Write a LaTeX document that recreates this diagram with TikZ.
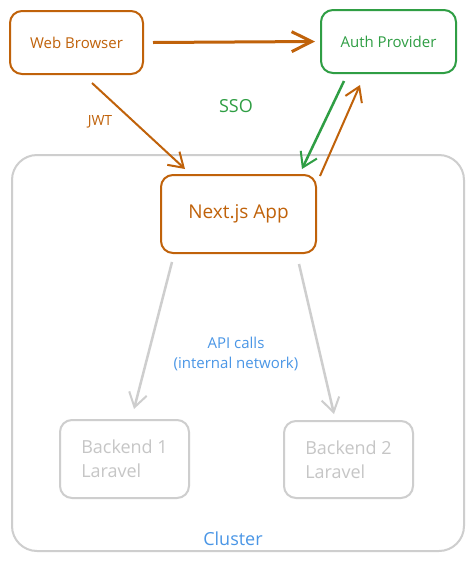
\documentclass[tikz,border=0pt]{standalone}
\usepackage{fontspec}
\setmainfont{Open Sans}
\usetikzlibrary{arrows.meta,calc}
\definecolor{cor}{RGB}{192,98,10}
\definecolor{cgr}{RGB}{47,158,68}
\definecolor{cbl}{RGB}{74,150,230}
\definecolor{cgy}{RGB}{206,206,206}
\definecolor{cgt}{RGB}{198,198,198}
\tikzset{
  boxo/.style={draw=cor,line width=2pt,rounded corners=12pt,text=cor,inner sep=0pt},
  boxg/.style={draw=cgr,line width=2pt,rounded corners=12pt,text=cgr,inner sep=0pt},
  boxgy/.style={draw=cgy,line width=2pt,rounded corners=12pt,text=cgt,inner sep=0pt,align=left},
  arr/.style={line width=2pt,-{Straight Barb[length=14pt,width=18pt,line width=2pt]}},
  arrb/.style={line width=3pt,-{Straight Barb[length=20pt,width=20pt,line width=3pt]}},
  lbl/.style={inner sep=0pt}
}
\begin{document}
\begin{tikzpicture}[x=1pt,y=-1pt]
\useasboundingbox (0,0) rectangle (474,563);
\fill[white] (0,0) rectangle (474,563);
% cluster
\draw[cgy,line width=2pt,rounded corners=25pt] (12,155) rectangle (464,551);
\node[lbl,text=cbl,font=\fontsize{18}{21}\selectfont] (cl) at (233,539) {Cluster};
% nodes
\node[boxo,minimum width=133pt,minimum height=63pt,font=\fontsize{15}{18}\selectfont] (wb) at (76.5,42.5) {Web Browser};
\node[boxg,minimum width=135pt,minimum height=63pt,font=\fontsize{15}{18}\selectfont] (auth) at (388.5,41.5) {Auth Provider};
\node[boxo,minimum width=155pt,minimum height=78pt,font=\fontsize{19}{22}\selectfont] (next) at (238.5,214) {Next.js App};
\node[boxgy,minimum width=129pt,minimum height=78pt,font=\fontsize{18}{24}\selectfont] (b1) at (124.5,459) {Backend 1\\Laravel};
\node[boxgy,minimum width=129pt,minimum height=77pt,font=\fontsize{18}{24}\selectfont] (b2) at (348.5,459.5) {Backend 2\\Laravel};
% labels
\node[lbl,text=cor,font=\fontsize{14}{16}\selectfont] (jwt) at (100,122) {JWT};
\node[lbl,text=cgr,font=\fontsize{18}{20}\selectfont] (sso) at (236,106) {SSO};
\node[lbl,text=cbl,align=center,font=\fontsize{15}{20}\selectfont] (api) at (236,354) {API calls\\(internal network)};
% connectors
\draw[arrb,cor] ([xshift=9pt]wb.east) -- ([xshift=-5pt]auth.west);
\draw[arr,cor] ([xshift=15.5pt,yshift=-8pt]wb.south) -- ([xshift=-53.5pt,yshift=5pt]next.north);
\draw[arr,cgr,line width=2.5pt] ([xshift=-44.5pt,yshift=-7pt]auth.south) -- ([xshift=63.5pt,yshift=5pt]next.north);
\draw[arr,cor] ([xshift=3pt,yshift=-2pt]next.north east) -- ([xshift=-28.5pt,yshift=-11pt]auth.south);
\draw[arr,cgy,line width=2.5pt] ([xshift=-66.5pt,yshift=-8pt]next.south) -- ([xshift=9.5pt,yshift=10pt]b1.north);
\draw[arr,cgy,line width=2.5pt] ([xshift=60.5pt,yshift=-10pt]next.south) -- ([xshift=-14.5pt,yshift=6pt]b2.north);
\end{tikzpicture}
\end{document}
